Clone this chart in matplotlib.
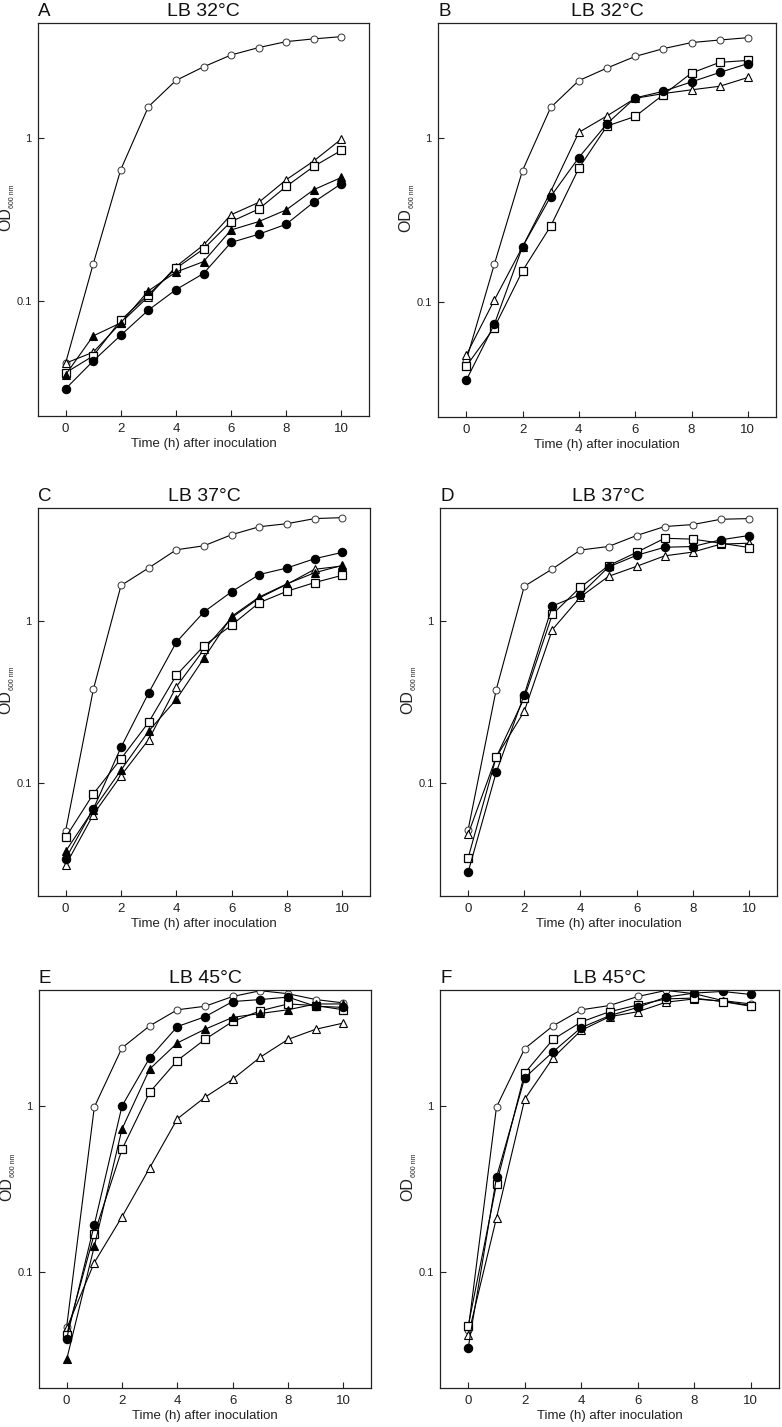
import matplotlib
matplotlib.use("Agg")
import matplotlib.pyplot as plt

plt.rcParams['font.family'] = ['Liberation Sans', 'DejaVu Sans']

hours = list(range(11))

# A - LB 32C
a_open_circle = [0.042, 0.169, 0.637, 1.54, 2.23, 2.70, 3.19, 3.54, 3.85, 4.00, 4.13]
a_open_triangle = [0.042, 0.049, 0.074, 0.107, 0.163, 0.221, 0.338, 0.402, 0.553, 0.720, 0.98]
a_open_square = [0.0367, 0.0465, 0.0769, 0.110, 0.159, 0.209, 0.307, 0.366, 0.503, 0.667, 0.836]
a_filled_triangle = [0.0357, 0.0616, 0.074, 0.116, 0.151, 0.175, 0.273, 0.307, 0.362, 0.481, 0.571]
a_filled_circle = [0.0293, 0.0433, 0.0622, 0.0885, 0.118, 0.148, 0.229, 0.257, 0.296, 0.404, 0.523]

# B - LB 32C
b_open_circle = [0.044, 0.170, 0.632, 1.53, 2.23, 2.66, 3.13, 3.49, 3.80, 3.94, 4.07]
b_open_triangle = [0.0475, 0.103, 0.217, 0.471, 1.08, 1.36, 1.74, 1.86, 1.96, 2.06, 2.33]
b_open_square = [0.0407, 0.0701, 0.155, 0.290, 0.653, 1.18, 1.35, 1.83, 2.48, 2.88, 2.96]
b_filled_circle = [0.0334, 0.0734, 0.217, 0.439, 0.759, 1.22, 1.75, 1.92, 2.19, 2.50, 2.83]

# C - LB 37C
c_open_circle = [0.0507, 0.378, 1.66, 2.13, 2.76, 2.92, 3.42, 3.83, 4.00, 4.30, 4.36]
c_filled_circle = [0.0340, 0.069, 0.166, 0.360, 0.741, 1.14, 1.52, 1.94, 2.13, 2.43, 2.66]
c_open_square = [0.0461, 0.0855, 0.141, 0.237, 0.463, 0.704, 0.945, 1.30, 1.53, 1.73, 1.92]
c_filled_triangle = [0.0378, 0.0684, 0.120, 0.209, 0.328, 0.590, 1.07, 1.41, 1.70, 1.99, 2.21]
c_open_triangle = [0.031, 0.0637, 0.111, 0.185, 0.393, 0.668, 1.05, 1.39, 1.69, 2.09, 2.19]

# D - LB 37C
d_open_circle = [0.0512, 0.376, 1.64, 2.10, 2.75, 2.89, 3.38, 3.84, 3.95, 4.26, 4.30]
d_open_triangle = [0.0481, 0.144, 0.277, 0.885, 1.41, 1.89, 2.18, 2.53, 2.67, 2.99, 3.03]
d_open_square = [0.0343, 0.144, 0.335, 1.10, 1.62, 2.20, 2.66, 3.25, 3.21, 3.03, 2.85]
d_filled_circle = [0.028, 0.116, 0.351, 1.24, 1.46, 2.16, 2.55, 2.86, 2.89, 3.18, 3.38]

# E - LB 45C
e_open_circle = [0.0468, 0.986, 2.24, 3.04, 3.80, 3.99, 4.57, 4.95, 4.75, 4.38, 4.18]
e_filled_circle = [0.0397, 0.193, 1.0, 1.95, 3.01, 3.45, 4.26, 4.38, 4.53, 3.99, 3.93]
e_filled_triangle = [0.0297, 0.143, 0.727, 1.67, 2.40, 2.90, 3.42, 3.61, 3.80, 4.12, 4.12]
e_open_square = [0.0420, 0.170, 0.548, 1.21, 1.88, 2.52, 3.23, 3.75, 4.12, 4.03, 3.80]
e_open_triangle = [0.0457, 0.114, 0.215, 0.424, 0.837, 1.13, 1.45, 1.97, 2.52, 2.90, 3.16]

# F - LB 45C
f_open_circle = [0.045, 0.986, 2.22, 3.04, 3.80, 4.03, 4.57, 4.97, 4.75, 4.32, 4.12]
f_filled_circle = [0.035, 0.372, 1.48, 2.12, 2.97, 3.50, 3.93, 4.53, 4.79, 4.90, 4.70]
f_open_square = [0.0475, 0.339, 1.58, 2.52, 3.21, 3.70, 4.06, 4.42, 4.47, 4.26, 3.99]
f_open_triangle = [0.0416, 0.212, 1.10, 1.95, 2.86, 3.45, 3.70, 4.22, 4.42, 4.28, 4.03]

panel_letters = ['A', 'B', 'C', 'D', 'E', 'F']
panel_titles = ['LB 32°C', 'LB 32°C', 'LB 37°C', 'LB 37°C', 'LB 45°C', 'LB 45°C']

panels = [
    [('open_circle', a_open_circle), ('open_triangle', a_open_triangle), ('open_square', a_open_square),
     ('filled_triangle', a_filled_triangle), ('filled_circle', a_filled_circle)],
    [('open_circle', b_open_circle), ('open_triangle', b_open_triangle), ('open_square', b_open_square),
     ('filled_circle', b_filled_circle)],
    [('open_circle', c_open_circle), ('open_triangle', c_open_triangle), ('filled_triangle', c_filled_triangle),
     ('open_square', c_open_square), ('filled_circle', c_filled_circle)],
    [('open_circle', d_open_circle), ('open_triangle', d_open_triangle), ('open_square', d_open_square),
     ('filled_circle', d_filled_circle)],
    [('open_circle', e_open_circle), ('open_triangle', e_open_triangle), ('open_square', e_open_square),
     ('filled_triangle', e_filled_triangle), ('filled_circle', e_filled_circle)],
    [('open_circle', f_open_circle), ('open_triangle', f_open_triangle), ('open_square', f_open_square),
     ('filled_circle', f_filled_circle)],
]

styles = {
    'open_circle': dict(marker='o', ms=5.0, mfc='white', mec='#333333', mew=0.7),
    'filled_circle': dict(marker='o', ms=6.0, mfc='black', mec='black', mew=0.8),
    'open_square': dict(marker='s', ms=5.8, mfc='white', mec='black', mew=0.9),
    'open_triangle': dict(marker='^', ms=6.0, mfc='white', mec='black', mew=0.8),
    'filled_triangle': dict(marker='^', ms=6.0, mfc='black', mec='black', mew=0.8),
}

# axes boxes in pixels: left, top, right, bottom
W, H = 782, 1427
boxes = [
    (38, 23, 369, 416), (438, 23, 776, 417),
    (38, 508, 370, 896), (440, 508, 777, 896),
    (39, 990, 371, 1388), (440, 990, 779, 1388),
]

fig = plt.figure(figsize=(W / 100, H / 100), dpi=100)

for i, (l, t, r, b) in enumerate(boxes):
    ax = fig.add_axes([l / W, 1 - b / H, (r - l) / W, (b - t) / H])
    for name, vals in panels[i]:
        ax.plot(hours, vals, color='black', lw=0.8, **styles[name])
    ax.set_yscale('log')
    ax.set_ylim(0.02, 5.0)
    ax.set_xlim(-1, 11)
    ax.set_xticks([0, 2, 4, 6, 8, 10])
    ax.set_yticks([0.1, 1])
    ax.set_yticklabels(['0.1', '1'])
    ax.yaxis.set_minor_locator(matplotlib.ticker.NullLocator())
    ax.tick_params(axis='x', direction='in', length=4, width=0.8, labelsize=9.5, pad=5, colors='#222222')
    ax.tick_params(axis='y', direction='in', length=4, width=0.8, labelsize=8, pad=4.5, colors='#222222')
    for sp in ax.spines.values():
        sp.set_linewidth(0.9)
        sp.set_color('#222222')
    ax.set_xlabel('Time (h) after inoculation', fontsize=9.5, color='#222222', labelpad=2)
    ylab = ax.set_ylabel('OD', fontsize=11.5, color='#222222', labelpad=2)
    ax.annotate('600 nm', xy=(1.0, 1.0), xycoords=ylab, xytext=(2, 0), textcoords='offset points',
                rotation=90, ha='right', va='bottom', fontsize=5, color='#222222')
    ax.set_title(panel_titles[i], fontsize=14, pad=5, color='#111111')
    ax.annotate(panel_letters[i], xy=(0, 1), xycoords='axes fraction', xytext=(0, 5),
                textcoords='offset points', ha='left', va='baseline', fontsize=13.5, color='#111111')

fig.savefig('out.png', dpi=100)
